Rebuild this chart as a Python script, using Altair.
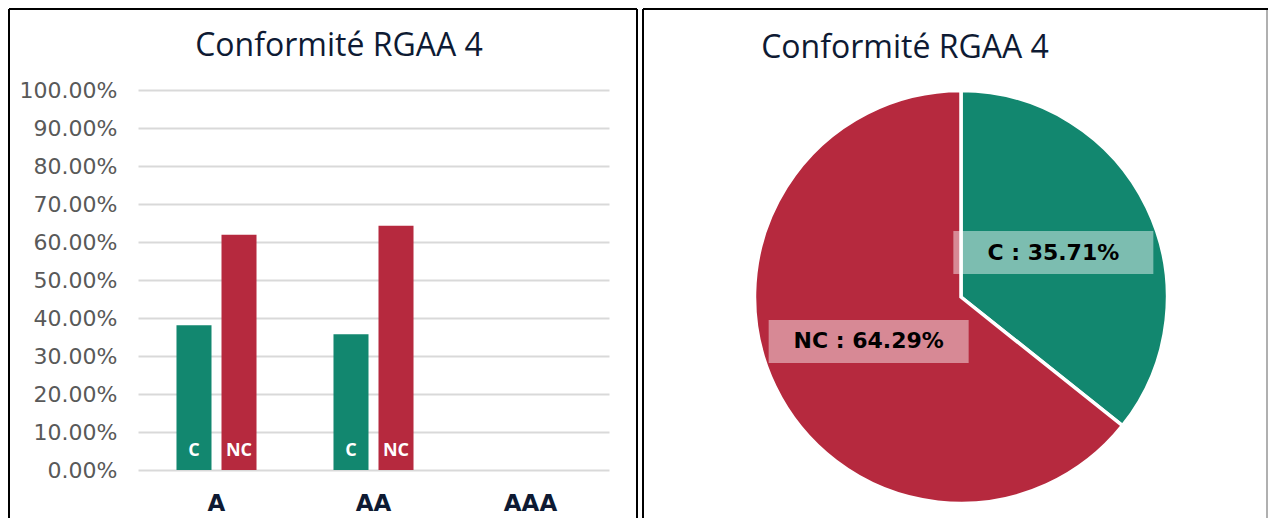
import altair as alt
import pandas as pd

TITLE = "Conformité RGAA 4"
levels = ["A", "AA", "AAA"]
types = ["C", "NC"]
pct_C = [38.10, 35.71, None]
pct_NC = [61.90, 64.29, None]
y_ticks = [0.0, 0.1, 0.2, 0.3, 0.4, 0.5, 0.6, 0.7, 0.8, 0.9, 1.0]
pie_types = ["C", "NC"]
pie_pct = [35.71, 64.29]
colors = ["#12876F", "#B6293E"]

rows = []
for lvl, c, nc in zip(levels, pct_C, pct_NC):
    if c is not None:
        rows.append({"level": lvl, "type": "C", "value": c / 100})
    if nc is not None:
        rows.append({"level": lvl, "type": "NC", "value": nc / 100})
bar_df = pd.DataFrame(rows)
one = pd.DataFrame({"t": [TITLE]})
pie_df = pd.DataFrame({"type": pie_types, "value": pie_pct})

NAVY = "#0E1A33"

x_scale = alt.Scale(domain=levels, paddingInner=0, paddingOuter=0)
x_axis = alt.Axis(title=None, labelAngle=0, labelFont="DejaVu Sans", labelFontWeight="bold",
                  labelFontSize=23, labelColor=NAVY, labelPadding=40, domain=False,
                  ticks=False, tickSize=0, grid=False, labelBaseline="alphabetic")
xoff_scale = alt.Scale(domain=types, paddingInner=0.222, paddingOuter=0.855)
y_scale = alt.Scale(domain=[0, 1], nice=False)
y_axis = alt.Axis(title=None, values=y_ticks, format=".2%", labelFont="DejaVu Sans",
                  labelFontSize=22, labelColor="#595959", labelPadding=21, domain=False,
                  ticks=False, tickSize=0, gridColor="#D9D9D9", gridWidth=2,
                  labelOverlap=False)
color = alt.Color("type:N", scale=alt.Scale(domain=types, range=colors), legend=None)

bars = alt.Chart(bar_df).mark_bar().encode(
    x=alt.X("level:N", scale=x_scale, axis=x_axis),
    xOffset=alt.XOffset("type:N", scale=xoff_scale),
    y=alt.Y("value:Q", scale=y_scale, axis=y_axis),
    color=color)
bar_text = alt.Chart(bar_df).transform_calculate(value="0").mark_text(
    font="Open Sans", fontWeight="bold", fontSize=18, color="white",
    baseline="alphabetic", dy=-14).encode(
    x=alt.X("level:N", scale=x_scale, axis=x_axis),
    xOffset=alt.XOffset("type:N", scale=xoff_scale),
    y=alt.Y("value:Q", scale=y_scale, axis=y_axis),
    text="type:N")

title_l = alt.Chart(one).mark_text(font="Open Sans", fontSize=32, color=NAVY, baseline="alphabetic",
                                   align="center").encode(text="t:N", x=alt.value(201), y=alt.value(-34))
fl1 = alt.Chart(one).mark_rule(color="black", strokeWidth=2).encode(x=alt.value(-129), y=alt.value(-81), y2=alt.value(428))
fl2 = alt.Chart(one).mark_rule(color="black", strokeWidth=2).encode(x=alt.value(-129), x2=alt.value(499), y=alt.value(-81))
fl3 = alt.Chart(one).mark_rule(color="black", strokeWidth=2).encode(x=alt.value(499), y=alt.value(-81), y2=alt.value(428))

left = alt.layer(bars, bar_text, title_l, fl1, fl2, fl3).properties(width=471, height=380)

# Pie
base = alt.Chart(pie_df)
arcs = base.mark_arc(outerRadius=206.5, stroke="white", strokeWidth=3.5).encode(
    theta=alt.Theta("value:Q", stack=True),
    color=color,
    order=alt.Order("type:N", sort="ascending"))

lab = base.transform_window(cum="sum(value)", sort=[alt.SortField("type")]).transform_calculate(
    mid="(datum.cum - datum.value / 2) / 100",
    px="0.5 * sin(2 * PI * datum.mid)",
    py="0.5 * cos(2 * PI * datum.mid)",
    label="datum.type + ' : ' + format(datum.value / 100, '.2%')")
px = alt.X("px:Q", scale=alt.Scale(domain=[-1, 1], nice=False), axis=None)
py = alt.Y("py:Q", scale=alt.Scale(domain=[-1.0098, 1.0098], nice=False), axis=None)
boxes = lab.mark_point(shape="M-1,-0.215H1V0.215H-1Z", size=40000, filled=True, color="white",
                       opacity=0.45, strokeWidth=0).encode(x=px, y=py)
pie_text = lab.mark_text(font="DejaVu Sans", fontWeight="bold", fontSize=22, color="black",
                         baseline="middle").encode(x=px, y=py, text="label:N")

title_r = alt.Chart(one).mark_text(font="Open Sans", fontSize=32, color=NAVY, baseline="alphabetic",
                                   align="center").encode(text="t:N", x=alt.value(149), y=alt.value(-32))
fr1 = alt.Chart(one).mark_rule(color="black", strokeWidth=2).encode(x=alt.value(-113), y=alt.value(-81), y2=alt.value(428))
fr2 = alt.Chart(one).mark_rule(color="black", strokeWidth=2).encode(x=alt.value(-113), x2=alt.value(512), y=alt.value(-81))
fr3 = alt.Chart(one).mark_rule(color="#B0B0B0", strokeWidth=2).encode(x=alt.value(511), y=alt.value(-80), y2=alt.value(428))

right = alt.layer(arcs, boxes, pie_text, title_r, fr1, fr2, fr3).properties(width=410, height=414)

chart = alt.hconcat(left, right, spacing=4).properties(padding=0).configure_view(strokeWidth=0)

chart.save("out.html", embed_options={"renderer": "svg", "actions": False})
